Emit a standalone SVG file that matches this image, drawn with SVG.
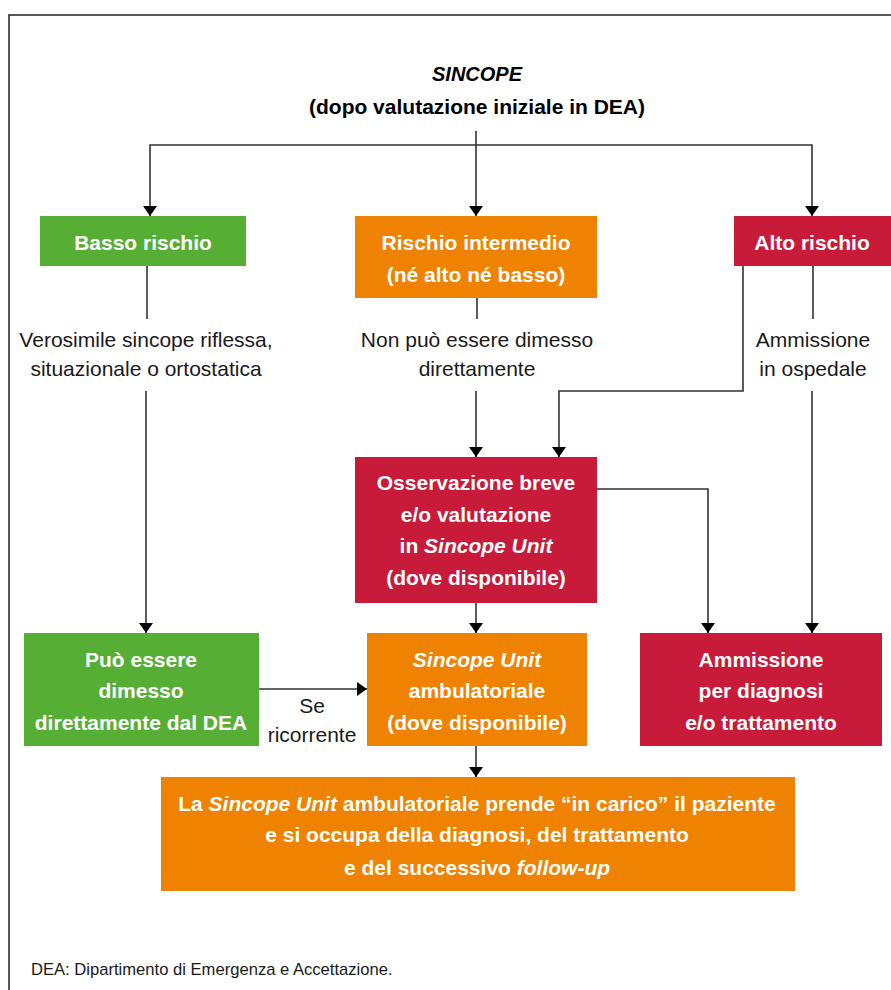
<svg xmlns="http://www.w3.org/2000/svg" width="891" height="990" viewBox="0 0 891 990">
<style>
.frame{fill:none;stroke:#222;stroke-width:1.5}
.c{fill:none;stroke:#333;stroke-width:1.6}
.ca{fill:none;stroke:#333;stroke-width:1.6;marker-end:url(#ah)}
.bt{font-family:"Liberation Sans",Arial,sans-serif;font-size:21px;font-weight:bold;fill:#fff;text-anchor:middle}
.lt{font-family:"Liberation Sans",Arial,sans-serif;font-size:21px;fill:#1a1a1a;text-anchor:middle}
.tt{font-family:"Liberation Sans",Arial,sans-serif;font-size:21px;font-weight:bold;fill:#000;text-anchor:middle}
.g{fill:#57AE34}.o{fill:#EF8200}.r{fill:#C81A39}
.i{font-style:italic}
</style>
<defs>
<marker id="ah" viewBox="0 0 10 14" refX="10" refY="7" markerWidth="10" markerHeight="14" markerUnits="userSpaceOnUse" orient="auto">
<path d="M0,0 L10,7 L0,14 z" fill="#000"/>
</marker>
</defs>
<rect width="891" height="990" fill="#fff"/>
<path class="frame" d="M9,990 V15 H891"/>

<g id="title">
<text class="tt i" x="477" y="81" style="font-size:20px">SINCOPE</text>
<text class="tt" x="477" y="114">(dopo valutazione iniziale in DEA)</text>
</g>

<g id="connectors">
<path class="c" d="M476,131 V145"/>
<path class="ca" d="M476,145 H150 V216"/>
<path class="ca" d="M476,145 V216"/>
<path class="ca" d="M476,145 H812 V216"/>
<path class="c" d="M147,266 V319"/>
<path class="ca" d="M146,391 V633"/>
<path class="c" d="M477,298 V319"/>
<path class="ca" d="M476,391 V457"/>
<path class="c" d="M813,266 V319"/>
<path class="ca" d="M812,391 V633"/>
<path class="ca" d="M743,266 V391 H559 V457"/>
<path class="ca" d="M597,489 H708 V633"/>
<path class="ca" d="M476,603 V633"/>
<path class="ca" d="M259,689 H367"/>
<path class="ca" d="M476,746 V777"/>
</g>

<g id="basso">
<rect class="g" x="40" y="216" width="206" height="50"/>
<text class="bt" x="143" y="250">Basso rischio</text>
</g>
<g id="intermedio">
<rect class="o" x="355" y="216" width="242" height="82"/>
<text class="bt" x="476" y="250">Rischio intermedio</text>
<text class="bt" x="476" y="282">(né alto né basso)</text>
</g>
<g id="alto">
<rect class="r" x="734" y="216" width="157" height="50"/>
<text class="bt" x="812" y="250">Alto rischio</text>
</g>

<g id="label-basso">
<text class="lt" x="146" y="347">Verosimile sincope riflessa,</text>
<text class="lt" x="146" y="376">situazionale o ortostatica</text>
</g>
<g id="label-intermedio">
<text class="lt" x="477" y="347">Non può essere dimesso</text>
<text class="lt" x="477" y="376">direttamente</text>
</g>
<g id="label-alto">
<text class="lt" x="813" y="347">Ammissione</text>
<text class="lt" x="813" y="376">in ospedale</text>
</g>

<g id="osservazione">
<rect class="r" x="355" y="457" width="242" height="146"/>
<text class="bt" x="476" y="490">Osservazione breve</text>
<text class="bt" x="476" y="522">e/o valutazione</text>
<text class="bt" x="476" y="553">in <tspan class="i">Sincope Unit</tspan></text>
<text class="bt" x="476" y="585">(dove disponibile)</text>
</g>

<g id="dimesso">
<rect class="g" x="24" y="633" width="235" height="113"/>
<text class="bt" x="141" y="667">Può essere</text>
<text class="bt" x="141" y="698">dimesso</text>
<text class="bt" x="141" y="730">direttamente dal DEA</text>
</g>
<g id="label-ricorrente">
<text class="lt" x="312" y="713">Se</text>
<text class="lt" x="312" y="742">ricorrente</text>
</g>
<g id="sincope-unit">
<rect class="o" x="367" y="633" width="220" height="113"/>
<text class="bt i" x="477" y="667">Sincope Unit</text>
<text class="bt" x="477" y="698">ambulatoriale</text>
<text class="bt" x="477" y="730">(dove disponibile)</text>
</g>
<g id="ammissione">
<rect class="r" x="640" y="633" width="242" height="113"/>
<text class="bt" x="761" y="667">Ammissione</text>
<text class="bt" x="761" y="698">per diagnosi</text>
<text class="bt" x="761" y="730">e/o trattamento</text>
</g>

<g id="presa-in-carico">
<rect class="o" x="161" y="777" width="634" height="114"/>
<text class="bt" x="477" y="811">La <tspan class="i">Sincope Unit</tspan> ambulatoriale prende “in carico” il paziente</text>
<text class="bt" x="477" y="842">e si occupa della diagnosi, del trattamento</text>
<text class="bt" x="477" y="875">e del successivo <tspan class="i">follow-up</tspan></text>
</g>

<g id="footnote">
<text x="31" y="975" style="font-family:'Liberation Sans',Arial,sans-serif;font-size:16.6px;fill:#1a1a1a">DEA: Dipartimento di Emergenza e Accettazione.</text>
</g>
</svg>
